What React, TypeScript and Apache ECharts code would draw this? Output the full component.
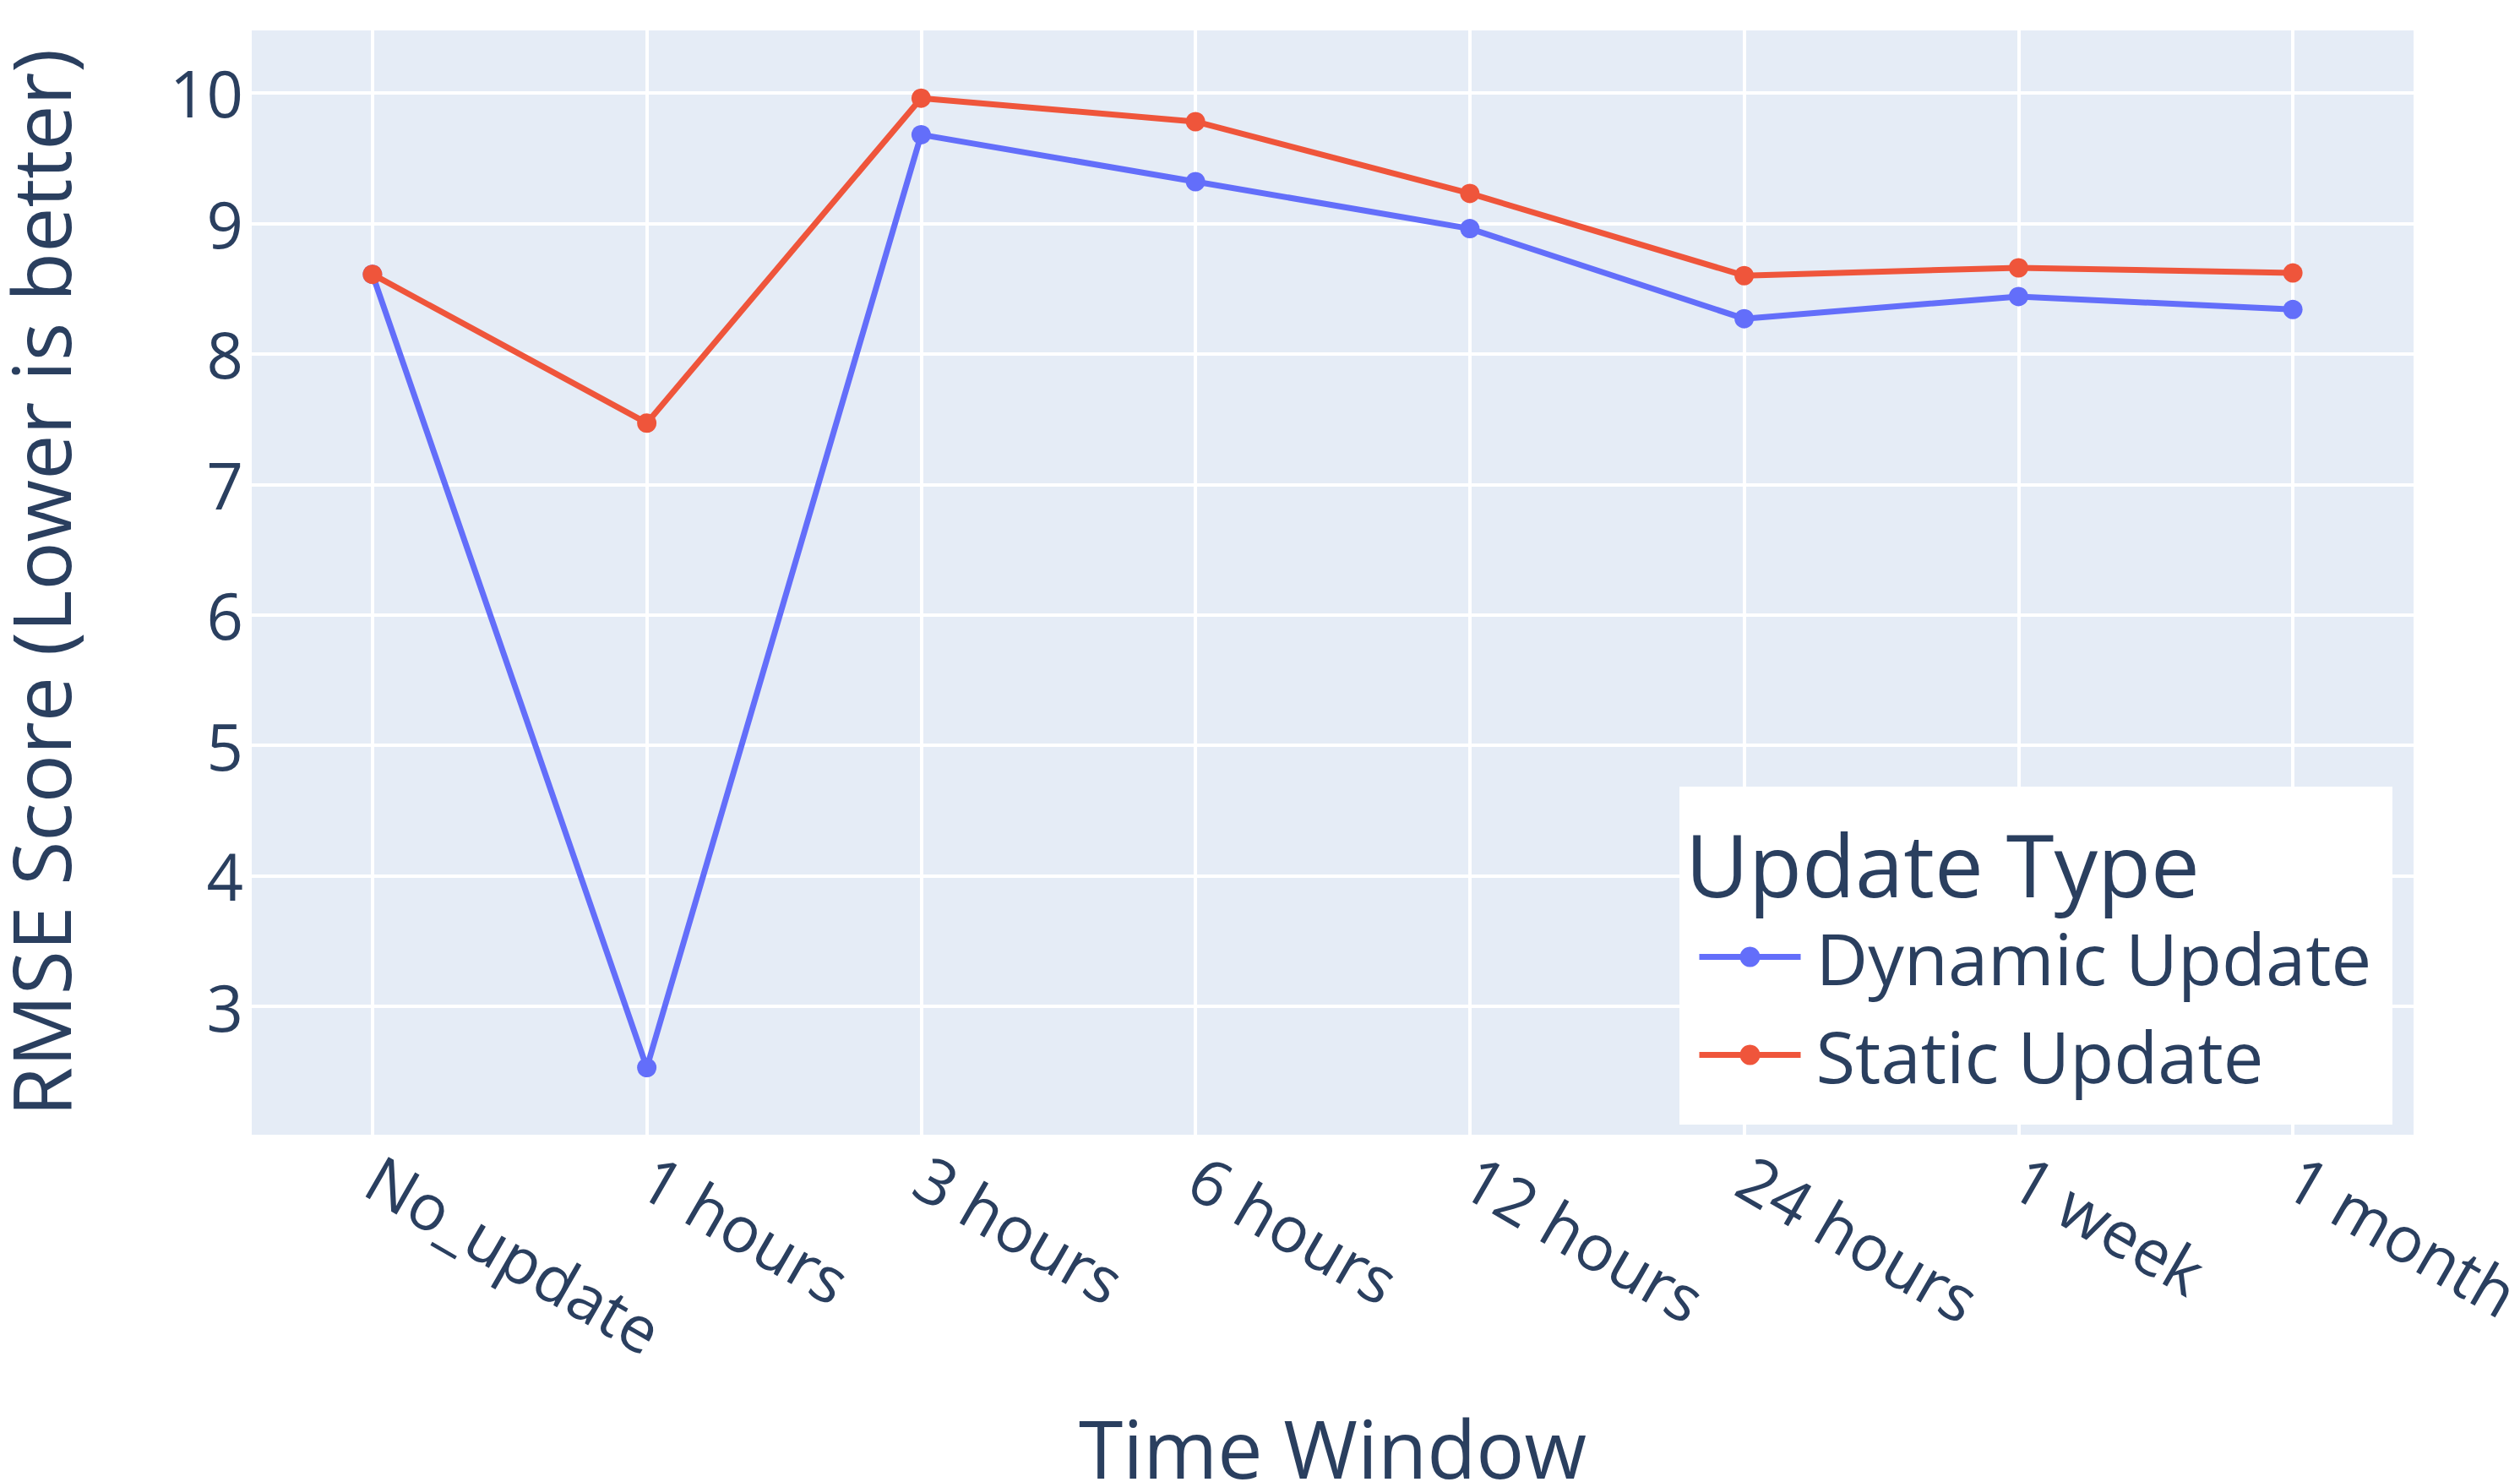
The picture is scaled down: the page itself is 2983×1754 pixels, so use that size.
import React, { useEffect, useRef } from "react";
import * as echarts from "echarts";

const categories = ["No_update", "1 hours", "3 hours", "6 hours", "12 hours", "24 hours", "1 week", "1 month"];
const dynamicUpdate = [8.61, 2.53, 9.68, 9.32, 8.96, 8.27, 8.44, 8.34];
const staticUpdate = [8.61, 7.47, 9.96, 9.78, 9.23, 8.6, 8.66, 8.62];
const yTicks = [3, 4, 5, 6, 7, 8, 9, 10];
const seriesNames = ["Dynamic Update", "Static Update"];
const legendTitle = "Update Type";
const xTitle = "Time Window";
const yTitle = "RMSE Score (Lower is better)";

const FONT = "'Open Sans', 'Noto Sans', sans-serif";
const TEXT = "#2a3f5f";

export default function App() {
  const ref = useRef<HTMLDivElement>(null);
  useEffect(() => {
    document.body.style.margin = "0";
    const chart = echarts.init(ref.current!, null, { renderer: "svg" });
    const xIdx = categories.map((_, i) => i);
    const option: any = {
      animation: false,
      backgroundColor: "#ffffff",
      textStyle: { fontFamily: FONT, color: TEXT },
      grid: {
        left: 298,
        top: 36,
        right: 126,
        bottom: 411,
        show: true,
        backgroundColor: "#E5ECF6",
        borderWidth: 0,
        containLabel: false,
        outerBoundsMode: "none",
      },
      xAxis: {
        type: "value",
        min: -0.44,
        max: 7.44,
        name: xTitle,
        nameLocation: "middle",
        nameGap: 335,
        nameTextStyle: { fontSize: 95, color: TEXT, fontFamily: FONT, lineHeight: 70 },
        axisLine: { show: false },
        axisTick: { show: false, customValues: xIdx },
        axisLabel: {
          customValues: xIdx,
          formatter: (v: number) => categories[Math.round(v)],
          rotate: -30,
          fontSize: 76,
          color: TEXT,
          fontFamily: FONT,
          margin: 44,
        },
        splitLine: { show: true, lineStyle: { color: "#ffffff", width: 4 } },
      },
      yAxis: {
        type: "value",
        min: 2.016,
        max: 10.479,
        name: yTitle,
        nameLocation: "middle",
        nameGap: 211,
        nameTextStyle: { fontSize: 95, color: TEXT, fontFamily: FONT, lineHeight: 80 },
        axisLine: { show: false },
        axisTick: { show: false, customValues: yTicks },
        axisLabel: {
          customValues: yTicks,
          fontSize: 76,
          color: TEXT,
          fontFamily: FONT,
          margin: 10,
        },
        splitLine: { show: true, lineStyle: { color: "#ffffff", width: 4 } },
      },
      legend: {
        data: seriesNames,
        orient: "vertical",
        left: 2008,
        top: 1090,
        padding: 0,
        itemWidth: 120,
        itemHeight: 30,
        itemGap: 31,
        z: 10,
        lineStyle: { width: 7 },
        textStyle: {
          fontSize: 85,
          color: TEXT,
          fontFamily: FONT,
          lineHeight: 85,
          padding: [0, 0, 0, 13],
        },
      },
      graphic: [
        {
          type: "rect",
          z: 5,
          shape: { x: 1988, y: 931, width: 844, height: 400 },
          style: { fill: "#ffffff" },
        },
        {
          type: "text",
          z: 11,
          x: 1995,
          y: 1022,
          style: {
            text: legendTitle,
            fontSize: 103,
            lineHeight: 66,
            fontFamily: FONT,
            fill: TEXT,
            verticalAlign: "middle",
            align: "left",
          },
        },
      ],
      series: [
        {
          name: seriesNames[0],
          type: "line",
          data: dynamicUpdate.map((v, i) => [i, v]),
          symbol: "circle",
          symbolSize: 23,
          lineStyle: { width: 7, color: "#636efa" },
          itemStyle: { color: "#636efa" },
          z: 2,
        },
        {
          name: seriesNames[1],
          type: "line",
          data: staticUpdate.map((v, i) => [i, v]),
          symbol: "circle",
          symbolSize: 23,
          lineStyle: { width: 7, color: "#EF553B" },
          itemStyle: { color: "#EF553B" },
          z: 3,
        },
      ],
    };
    chart.setOption(option);
    return () => chart.dispose();
  }, []);
  return <div ref={ref} style={{ width: 2983, height: 1754, overflow: "hidden" }} />;
}
